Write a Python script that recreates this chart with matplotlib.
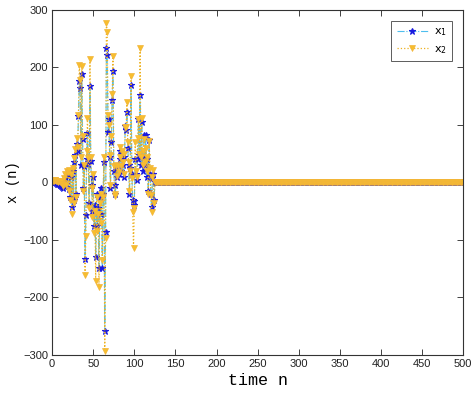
import matplotlib
matplotlib.use("Agg")
import matplotlib.pyplot as plt
import numpy as np

# chaotic transient values, n = 0..125
x1_head = [2, 1, 0, 1, 0, -1, -2, -3, -2, -4, -5, -6, -8, -10, -6, 5, 10, -3, 15, 12,
           -12, 18, -25, 10, -43, 20, -30, 35, 48, -20, 66, 55, 115, 176, 165, 30, 189, 75, -10, 28,
           -134, -57, 40, 86, 32, -35, 168, 38, -5, -50, 10, -75, -40, -129, -20, -75, -45, -148, -25, -55,
           -10, -149, -20, 35, -259, -86, 234, 222, 88, 110, 45, -10, 70, 143, 194, 20, -5, -20, 25, 10,
           30, 14, 40, 55, 20, 50, 30, 10, 45, 98, 92, 123, 60, 30, -20, 25, 170, 15, -30, -40,
           -32, 40, 15, 5, 40, 110, 48, 152, 30, 105, 20, 45, 82, 30, 82, 10, 40, -15, 73, 15,
           -20, -43, 8, 15, -30, 0]
x2_head = [4, 3, 2, 4, 5, 3, 2, 1, 3, 2, 1, 0, -2, -6, -3, 8, 14, -5, 20, 18,
           -15, 22, -30, 15, -55, 25, -35, 42, 58, -25, 78, 62, 117, 204, 178, 45, 203, 80, -15, 30,
           -161, -94, 55, 112, 42, -45, 214, 45, -10, -60, 15, -88, -50, -171, -25, -85, -55, -182, -35, -70,
           -20, -135, -25, 45, -293, -97, 278, 262, 118, 100, 48, -5, 80, 153, 219, 28, -20, -24, 30, 12,
           28, 18, 45, 62, 28, 55, 35, 15, 50, 97, 96, 139, 70, 35, -15, 20, 185, 8, -52, -114,
           -45, 70, 20, 10, 78, 110, 50, 234, 45, 112, 30, 55, 75, 35, 60, 20, 45, -20, 72, 25,
           -22, -52, 10, 22, -35, 1]
# converged part, n = 126..500
x1_tail = [0] * 375
x2_tail = [0] * 375

n = np.arange(0, 501)
x1 = np.array(x1_head + x1_tail)
x2 = np.array(x2_head + x2_tail)

fig = plt.figure(figsize=(4.74, 3.97), dpi=100)
ax = fig.add_axes([0.11, 0.106, 0.867, 0.869])

ax.plot(n, x1, linestyle='-.', color='#4DBEEE', linewidth=0.8,
        marker='*', markersize=5, markerfacecolor='#1a1adf', markeredgecolor='#1a1adf',
        markeredgewidth=0.8, label='x$_1$')
ax.plot(n, x2, linestyle=':', color='#EDB120', linewidth=0.9,
        marker='v', markersize=4.5, markerfacecolor='#F7BE2E', markeredgecolor='#F2B53A',
        markeredgewidth=0.5, label='x$_2$')

ax.set_xlim(0, 500)
ax.set_ylim(-300, 300)
ax.set_xticks(np.arange(0, 501, 50))
ax.set_yticks(np.arange(-300, 301, 100))
ax.tick_params(direction='in', top=True, right=True, labelsize=8, length=4, width=0.6,
               pad=3, colors='#222222')
for sp in ax.spines.values():
    sp.set_linewidth(0.8)
    sp.set_color('#333333')
for lab in ax.get_xticklabels() + ax.get_yticklabels():
    lab.set_family('Liberation Sans')

ax.set_xlabel('time n', family='Liberation Mono', fontsize=12, labelpad=3)
ax.set_ylabel('x (n)', family='Liberation Mono', fontsize=10)
ax.yaxis.set_label_coords(-0.078, 0.5)

leg = ax.legend(loc='upper right', fontsize=8, frameon=True, fancybox=False,
                edgecolor='#333333', handlelength=2.8, borderaxespad=1.0,
                handletextpad=0.5, borderpad=0.5)
leg.get_frame().set_linewidth(0.7)

fig.savefig('out.png', dpi=100)
